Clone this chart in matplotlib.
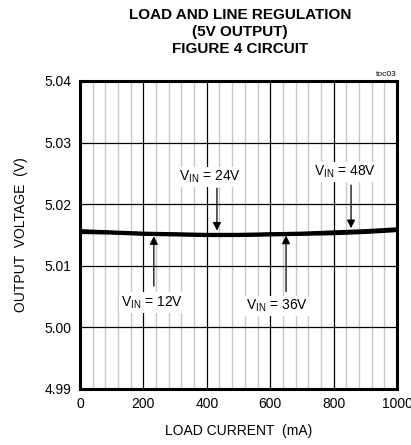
import matplotlib
matplotlib.use("Agg")
import matplotlib.pyplot as plt
import matplotlib.ticker as mtick

plt.rcParams['font.family'] = ['Liberation Sans Narrow', 'Liberation Sans', 'DejaVu Sans']

# Load current (mA) and output voltage (V) for each input voltage
load_ma = [0, 100, 200, 300, 400, 500, 600, 700, 800, 900, 1000]
vout_12v = [5.0156, 5.0154, 5.0152, 5.0151, 5.0150, 5.0150, 5.0151, 5.0152, 5.0153, 5.0155, 5.0158]
vout_24v = [5.0154, 5.0153, 5.0151, 5.0150, 5.0149, 5.0149, 5.0150, 5.0151, 5.0152, 5.0154, 5.0157]
vout_36v = [5.0157, 5.0155, 5.0153, 5.0152, 5.0151, 5.0151, 5.0152, 5.0153, 5.0155, 5.0157, 5.0160]
vout_48v = [5.0155, 5.0154, 5.0152, 5.0151, 5.0150, 5.0150, 5.0151, 5.0152, 5.0154, 5.0156, 5.0159]

x_ticks = [0, 200, 400, 600, 800, 1000]
y_ticks = [4.99, 5.00, 5.01, 5.02, 5.03, 5.04]

# label text, label position, arrow tail, arrow head
notes = [
    ('$\\mathregular{V_{IN}}$ = 12V', (227, 5.0040), (233, 5.0067), (233, 5.0148)),
    ('$\\mathregular{V_{IN}}$ = 24V', (410, 5.0244), (432, 5.0226), (432, 5.0157)),
    ('$\\mathregular{V_{IN}}$ = 36V', (621, 5.0035), (650, 5.0058), (650, 5.0149)),
    ('$\\mathregular{V_{IN}}$ = 48V', (836, 5.0252), (855, 5.0231), (855, 5.0161)),
]

fig = plt.figure(figsize=(4.11, 4.45), dpi=100)
ax = fig.add_axes([0.1946, 0.126, 0.7714, 0.692])

for series in [vout_12v, vout_24v, vout_36v, vout_48v]:
    ax.plot(load_ma, series, color='black', linewidth=2.2, zorder=3)

ax.set_xlim(0, 1000)
ax.set_ylim(4.99, 5.04)
ax.set_xticks(x_ticks)
ax.set_yticks(y_ticks)
ax.yaxis.set_major_formatter(mtick.FormatStrFormatter('%.2f'))
ax.xaxis.set_minor_locator(mtick.MultipleLocator(40))

ax.grid(which='major', color='black', linewidth=0.9)
ax.grid(which='minor', axis='x', color='#c8c8c8', linewidth=1.0)
ax.tick_params(which='both', length=0, labelsize=10, pad=6)

for s in ax.spines.values():
    s.set_linewidth(2.2)
    s.set_zorder(5)

ax.set_xlabel('LOAD CURRENT  (mA)', fontsize=10, labelpad=9)
ax.set_ylabel('OUTPUT  VOLTAGE  (V)', fontsize=10, labelpad=12)

for text, xy_text, tail, head in notes:
    ax.text(xy_text[0], xy_text[1], text, ha='center', va='center', fontsize=10,
            bbox=dict(facecolor='white', edgecolor='none', pad=1.5), zorder=4)
    ax.annotate('', xy=head, xytext=tail,
                arrowprops=dict(arrowstyle='-|>', color='black', lw=0.9,
                                mutation_scale=12, shrinkA=0, shrinkB=0), zorder=4)

fig.text(0.584, 0.982, 'LOAD AND LINE REGULATION\n(5V OUTPUT)\nFIGURE 4 CIRCUIT',
         ha='center', va='top', fontsize=11, fontweight='bold', linespacing=1.25)
fig.text(0.965, 0.825, 'toc03', ha='right', va='bottom', fontsize=6)

fig.savefig('out.png', dpi=100)
